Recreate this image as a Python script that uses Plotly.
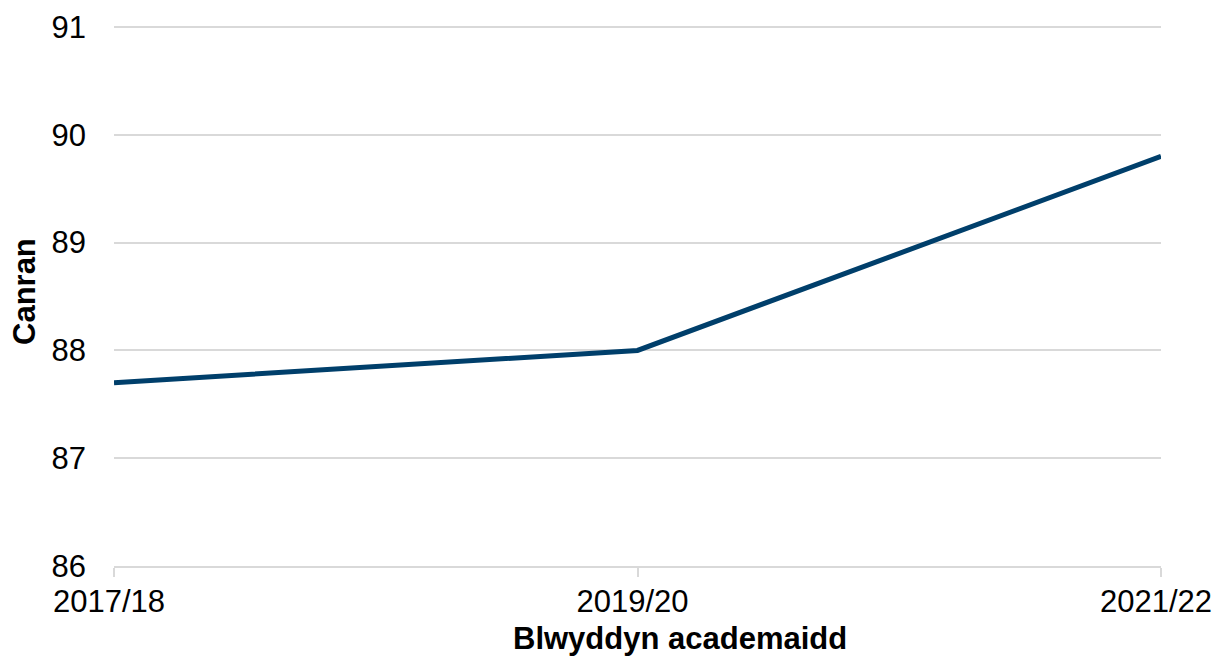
import plotly.graph_objects as go

years = ["2017/18", "2019/20", "2021/22"]
values = [87.7, 88.0, 89.8]
y_ticks = [86, 87, 88, 89, 90, 91]

FONT = "Liberation Sans, Arial, sans-serif"
FS = 31

fig = go.Figure()
fig.add_trace(go.Scatter(
    x=years, y=values, mode="lines",
    line=dict(color="#003F6B", width=5),
    hoverinfo="skip", showlegend=False,
))

fig.update_layout(
    width=1219, height=656,
    margin=dict(l=114, r=58, t=24, b=90),
    paper_bgcolor="white", plot_bgcolor="white",
    font=dict(family=FONT, size=FS, color="black"),
    xaxis=dict(
        type="category", range=[0, 2], automargin=False,
        showgrid=False, zeroline=False,
        showline=True, linecolor="#D9D9D9", linewidth=2,
        ticks="outside", ticklen=9, tickwidth=2, tickcolor="#D9D9D9",
        tickfont=dict(family=FONT, size=FS, color="black"),
        ticklabelstandoff=-2, ticklabelshift=-5,
    ),
    yaxis=dict(
        range=[86, 91.028], tickvals=y_ticks, automargin=False,
        showgrid=True, gridcolor="#D9D9D9", gridwidth=2,
        zeroline=False, showline=False,
        tickfont=dict(family=FONT, size=FS, color="black"),
        ticklabelstandoff=27,
    ),
    annotations=[
        dict(text="<b>Blwyddyn academaidd</b>", xref="paper", yref="paper",
             x=(680 - 114) / (1161 - 114), y=-(638 - 566) / (566 - 24),
             xanchor="center", yanchor="middle",
             showarrow=False, font=dict(family=FONT, size=FS, color="black")),
        dict(text="<b>Canran</b>", xref="paper", yref="paper",
             x=-(114 - 24) / (1161 - 114), y=(566 - 292) / (566 - 24),
             xanchor="center", yanchor="middle", textangle=-90,
             showarrow=False, font=dict(family=FONT, size=FS, color="black")),
    ],
)

fig.write_html("out.html", config={"displayModeBar": False},
               post_script="document.body.style.margin='0';")
